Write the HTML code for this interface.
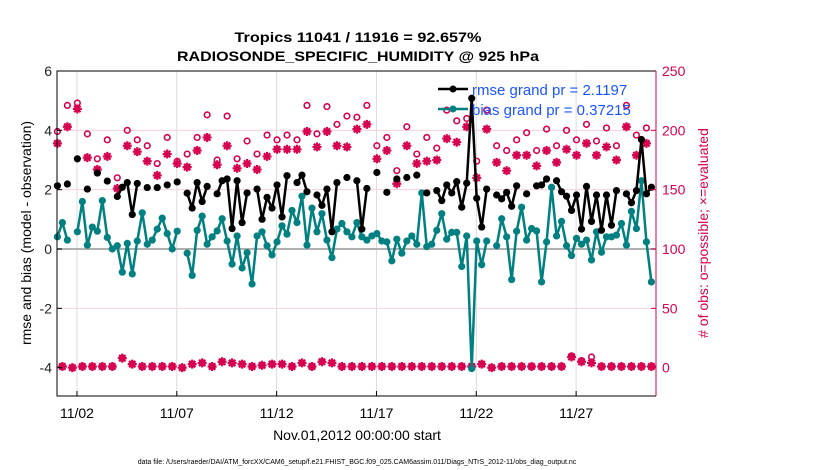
<!DOCTYPE html>
<html><head><meta charset="utf-8"><style>
html,body{margin:0;padding:0;background:#fff;}
svg{display:block;font-family:"Liberation Sans",Arial,sans-serif;}
</style></head><body>
<svg id="chart" width="830" height="470" viewBox="0 0 830 470" xmlns="http://www.w3.org/2000/svg">
<rect x="0" y="0" width="830" height="470" fill="#fff"/>
<text x="358" y="42" text-anchor="middle" font-size="14" font-weight="bold" textLength="247" lengthAdjust="spacingAndGlyphs">Tropics 11041 / 11916 = 92.657%</text>
<text x="358" y="61" text-anchor="middle" font-size="14" font-weight="bold" textLength="362" lengthAdjust="spacingAndGlyphs">RADIOSONDE_SPECIFIC_HUMIDITY @ 925 hPa</text>
<g id="grid"></g>
<g id="series"></g>
<g id="axes"></g>
<text transform="translate(31,233) rotate(-90)" text-anchor="middle" font-size="14">rmse and bias (model - observation)</text>
<text transform="translate(708,233) rotate(-90)" text-anchor="middle" font-size="14" fill="#d6004f">#  of obs: o=possible; ×=evaluated</text>
<text x="357" y="440" text-anchor="middle" font-size="14">Nov.01,2012 00:00:00 start</text>
<text x="357" y="464" text-anchor="middle" font-size="7">data file: /Users/raeder/DAI/ATM_forcXX/CAM6_setup/f.e21.FHIST_BGC.f09_025.CAM6assim.011/Diags_NTrS_2012-11/obs_diag_output.nc</text>
<g id="legend">
  <g>
    <line x1="438" y1="89" x2="468" y2="89" stroke="#000" stroke-width="2.5"/>
    <circle cx="453" cy="89" r="3.5" fill="#000"/>
    <text x="472" y="95" font-size="15" fill="#1a55ff">rmse grand pr = 2.1197</text>
  </g>
  <g>
    <line x1="438" y1="109" x2="468" y2="109" stroke="#008080" stroke-width="2.5"/>
    <circle cx="453" cy="109" r="3.5" fill="#008080"/>
    <text x="472" y="115" font-size="15" fill="#1a55ff">bias grand pr = 0.37215</text>
  </g>
</g>
</svg>
<script>
const xTickDays = [1, 6, 11, 16, 21, 26];
const xTickLabels = ["11/02", "11/07", "11/12", "11/17", "11/22", "11/27"];
const leftTicks = [6, 4, 2, 0, -2, -4];
const rightTicks = [250, 200, 150, 100, 50, 0];
const rmse = [2.13,null,2.19,null,3.04,null,2.02,null,2.56,null,2.29,null,1.77,2.08,2.24,1.16,2.21,null,2.07,null,
2.07,null,2.16,null,2.26,null,1.88,1.38,2.24,1.6,2.11,null,1.86,2.3,2.36,0.69,2.3,0.89,1.89,null,
2.02,1.0,1.74,1.38,2.16,1.08,2.47,null,2.24,2.49,1.93,null,1.82,1.47,2.02,0.58,2.24,null,2.41,null,
2.3,0.67,2.04,null,2.58,null,1.91,null,2.36,null,2.41,null,2.49,null,1.89,null,1.97,1.63,2.16,1.89,
2.27,1.41,2.22,5.08,1.71,0.74,2.02,null,1.82,1.69,1.91,1.44,2.13,null,1.86,null,2.13,2.16,2.36,null,
2.3,1.93,1.78,1.3,1.82,0.67,2.11,0.93,1.82,0.63,1.82,0.8,1.97,null,1.86,1.56,1.97,3.69,1.86,2.08];
const bias = [0.41,0.89,0.30,null,0.58,1.6,0.13,0.74,0.6,1.63,0.39,0.0,0.11,-0.78,0.19,-0.84,0.27,1.22,0.16,0.3,
0.67,1.04,0.52,0.0,0.6,null,-0.14,-0.89,0.63,1.11,0.16,0.41,0.61,1.02,0.27,-0.51,0.44,-0.64,-0.12,-1.18,
0.44,0.58,0.11,-0.2,0.24,0.78,0.5,1.3,0.89,1.78,0.13,1.38,0.58,1.19,0.3,-0.29,0.67,0.86,0.58,0.41,
0.89,0.41,0.30,0.44,0.52,0.27,0.24,-0.4,0.33,-0.14,0.27,0.44,0.16,1.89,0.08,0.16,0.63,1.19,0.33,0.56,
0.56,-0.59,0.44,-4.03,0.27,-0.53,0.27,null,0.11,1.02,0.41,-1.03,0.6,1.41,0.3,0.69,0.61,-1.11,0.24,2.08,
0.44,0.93,0.11,-0.22,0.36,0.16,0.3,-0.37,0.58,-0.11,0.41,0.41,0.47,0.86,0.13,1.27,0.69,2.3,0.24,-1.11];
const possible = [199,1,221,0,223,1,197,1,176,1,192,1,160,8,200,3,192,1,187,1,172,1,194,1,174,0,180,3,194,4,
213,1,175,5,212,4,176,3,191,1,180,2,196,3,192,3,196,1,192,4,221,1,197,5,220,4,205,1,212,1,
211,1,221,1,187,1,194,1,166,1,203,1,180,1,194,1,185,1,217,1,208,1,210,1,174,3,217,0,187,1,
183,1,192,1,198,1,183,1,201,1,187,1,200,10,192,6,205,9,191,1,202,1,187,1,221,1,196,1,202,1];
const evaluated = [189,1,203,0,218,1,177,1,167,1,178,1,151,8,187,3,182,1,174,1,162,1,180,1,172,0,169,3,183,4,
194,1,171,5,187,4,168,3,172,1,167,2,178,3,184,3,184,1,184,4,199,1,186,5,199,4,187,1,186,1,
201,1,205,1,176,1,183,1,155,1,187,1,172,1,174,1,175,1,193,1,190,1,203,1,160,3,201,0,173,1,
166,1,179,1,179,1,170,1,183,1,173,1,184,9,179,5,189,4,179,1,186,1,175,1,203,1,179,1,189,1];

const NS = "http://www.w3.org/2000/svg";
const X0 = 57, X1 = 656, Y0 = 71, Y1 = 396;
const DAYS = 30;
function xs(day){ return X0 + (day / DAYS) * (X1 - X0); }
function yl(v){ return 249 - v * 29.67; }
function yr(c){ return yl((c - 100) / 25); }
function dayOf(i){ return i * 0.25 + 0.02; }
function mk(tag, attrs, parent){
  const e = document.createElementNS(NS, tag);
  for (const k in attrs) e.setAttribute(k, attrs[k]);
  parent.appendChild(e);
  return e;
}
const grid = document.getElementById('grid');
const axes = document.getElementById('axes');
const series = document.getElementById('series');

// vertical grid lines
xTickDays.forEach((d, k) => {
  const g = mk('line', {x1: xs(d), x2: xs(d), y1: Y0, y2: Y1, stroke: '#dcdcdc', 'stroke-width': 1}, grid);
  
  
  const t = mk('line', {x1: xs(d), x2: xs(d), y1: Y1, y2: Y1 - 5, stroke: '#000', 'stroke-width': 1}, axes);
  
  
  const lb = mk('text', {x: xs(d), y: 418, 'text-anchor': 'middle', 'font-size': 14}, axes);
  lb.textContent = xTickLabels[k];
  
  
});
// right-axis pink grid
rightTicks.forEach(c => {
  if (c === 100 || c === 250 || c === 0) return;
  const g = mk('line', {x1: X0, x2: X1, y1: yr(c), y2: yr(c), stroke: '#f5d0dc', 'stroke-width': 1}, grid);
  
  
});
// zero line
const zl = mk('line', {x1: X0, x2: X1, y1: yl(0), y2: yl(0), stroke: '#b0b0b0', 'stroke-width': 2}, grid);



// left ticks
leftTicks.forEach(v => {
  const t = mk('line', {x1: X0, x2: X0 + 5, y1: yl(v), y2: yl(v), stroke: '#000'}, axes);
  
  
  const lb = mk('text', {x: 52, y: yl(v) + 5, 'text-anchor': 'end', 'font-size': 14, fill: '#222'}, axes);
  lb.textContent = String(v);
  
  
});
rightTicks.forEach(c => {
  const t = mk('line', {x1: X1, x2: X1 - 5, y1: yr(c), y2: yr(c), stroke: '#d6004f'}, axes);
  
  
  const lb = mk('text', {x: 662, y: yr(c) + 5, 'text-anchor': 'start', 'font-size': 14, fill: '#d6004f'}, axes);
  lb.textContent = String(c);
  
  
});
// spines
const sp1 = mk('path', {d: `M${X1},${Y0} L${X0},${Y0} L${X0},${Y1} L${X1},${Y1}`, fill: 'none', stroke: '#000', 'stroke-width': 1}, axes);


const sp2 = mk('line', {x1: X1, x2: X1, y1: Y0, y2: Y1, stroke: '#d6004f', 'stroke-width': 1}, axes);



// counts: circles (possible) and stars (evaluated)
const countG = mk('g', {}, series);


function star(cx, cy, r){
  let d = '';
  for (let a = 0; a < 4; a++){
    const ang = a * Math.PI / 4;
    const dx = r * Math.cos(ang), dy = r * Math.sin(ang);
    d += `M${cx-dx},${cy-dy} L${cx+dx},${cy+dy} `;
  }
  return d;
}
evaluated.forEach((c, i) => {
  if (c == null) return;
  const s = mk('path', {d: star(xs(dayOf(i)), yr(c), 4.5), stroke: '#d6004f', 'stroke-width': 2.2, fill: 'none'}, countG);
  
  
});
possible.forEach((c, i) => {
  if (c == null) return;
  const s = mk('circle', {cx: xs(dayOf(i)), cy: yr(c), r: 2.8, stroke: '#d6004f', 'stroke-width': 1.6, fill: 'none'}, countG);
  
  
});

function drawLine(arr, color, name){
  const g = mk('g', {}, series);
  
  
  let d = '';
  let pen = false;
  arr.forEach((v, i) => {
    if (v == null){ pen = false; return; }
    d += (pen ? 'L' : 'M') + xs(dayOf(i)).toFixed(2) + ',' + yl(v).toFixed(2) + ' ';
    pen = true;
  });
  const p = mk('path', {d: d, fill: 'none', stroke: color, 'stroke-width': 2.5, 'stroke-linejoin': 'round'}, g);
  
  
  arr.forEach((v, i) => {
    if (v == null) return;
    const c = mk('circle', {cx: xs(dayOf(i)), cy: yl(v), r: 3.6, fill: color}, g);
    
    
  });
}
drawLine(bias, '#008080', 'bias');
drawLine(rmse, '#000000', 'rmse');
// keep legend on top
document.getElementById('chart').appendChild(document.getElementById('legend'));
</script>
</body></html>
